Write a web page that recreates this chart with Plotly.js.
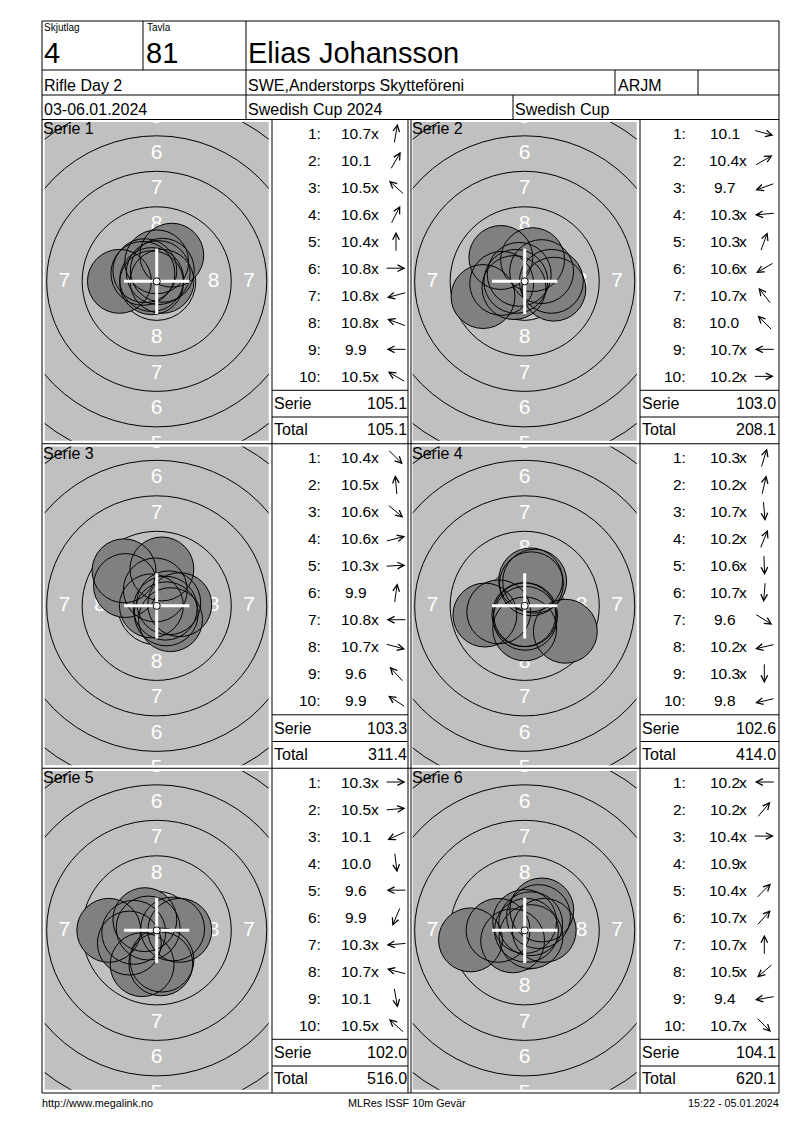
<!DOCTYPE html>
<html><head><meta charset="utf-8">
<script src="https://cdn.plot.ly/plotly-3.0.1.min.js"></script>
<style>html,body{margin:0;padding:0;background:#fff;}#chart{width:800px;height:1130px;}</style>
</head><body><div id="chart"></div>
<script>
// ---------- data ----------
const headerLabels = ['Skjutlag', 'Tavla'];
const headerValues = ['4', '81'];
const shooterName = 'Elias Johansson';
const eventName = 'Rifle Day 2';
const clubName = 'SWE,Anderstorps Skytteföreni';
const className = 'ARJM';
const eventDates = '03-06.01.2024';
const competitionName = 'Swedish Cup 2024';
const cupName = 'Swedish Cup';
const footerLeft = 'http://www.megalink.no';
const footerCenter = 'MLRes ISSF 10m Gevär';
const footerRight = '15:22 - 05.01.2024';

const serieNames = ['Serie 1', 'Serie 2', 'Serie 3', 'Serie 4', 'Serie 5', 'Serie 6'];

// decimal score of each shot, inner-ten flag (x), direction of the shot arrow (degrees, 0 = right, 90 = up)
const scores1 = [10.7, 10.1, 10.5, 10.6, 10.4, 10.8, 10.8, 10.8, 9.9, 10.5];
const inner1  = [1, 0, 1, 1, 1, 1, 1, 1, 0, 1];
const dir1    = [80, 60, 138, 63, 90, 0, 195, 160, 180, 150];

const scores2 = [10.1, 10.4, 9.7, 10.3, 10.3, 10.6, 10.7, 10.0, 10.7, 10.2];
const inner2  = [0, 1, 0, 1, 1, 1, 1, 0, 1, 1];
const dir2    = [345, 30, 200, 185, 70, 210, 128, 135, 180, 0];

const scores3 = [10.4, 10.5, 10.6, 10.6, 10.3, 9.9, 10.8, 10.7, 9.6, 9.9];
const inner3  = [1, 1, 1, 1, 1, 0, 1, 1, 0, 0];
const dir3    = [315, 95, 320, 14, 3, 82, 180, 345, 133, 147];

const scores4 = [10.3, 10.2, 10.7, 10.2, 10.6, 10.7, 9.6, 10.2, 10.3, 9.8];
const inner4  = [1, 1, 1, 1, 1, 1, 0, 1, 1, 0];
const dir4    = [73, 77, 275, 68, 272, 265, 328, 193, 270, 193];

const scores5 = [10.3, 10.5, 10.1, 10.0, 9.6, 9.9, 10.3, 10.7, 10.1, 10.5];
const inner5  = [1, 1, 0, 0, 0, 0, 1, 1, 0, 1];
const dir5    = [0, 5, 205, 277, 180, 247, 185, 165, 280, 138];

const scores6 = [10.2, 10.2, 10.4, 10.9, 10.4, 10.7, 10.7, 10.5, 9.4, 10.7];
const inner6  = [1, 1, 1, 1, 1, 1, 1, 1, 0, 1];
const dir6    = [180, 50, 0, null, 45, 48, 90, 221, 190, 315];

const serieSums     = [105.1, 103.0, 103.3, 102.6, 102.0, 104.1];
const runningTotals = [105.1, 208.1, 311.4, 414.0, 516.0, 620.1];

// ISSF 10 m air rifle target (mm): ring circles 9,8,7,...,1
const ringRadii   = [2.75, 5.25, 7.75, 10.25, 12.75, 15.25, 17.75, 20.25, 22.75];
const ringLabels  = [8, 7, 6, 5, 4];
const shotRadius  = 2.25;
const tenDot      = 0.25;

// ---------- layout helpers ----------
const W = 800, H = 1130;
const px = v => v / W;
const py = v => 1 - v / H;
const FONT = 'Arial, "Liberation Sans", sans-serif';

const MM = 14.2;                       // pixels per mm in the target views
const grayLeft = [44.7, 412.7], grayW = 224;
const grayTop = [122, 446.5, 771], grayH = 318.7;
const rowTop = [119.5, 444, 768.5];
const rowPitch = 27.04;
const idxRight = [320.5, 685.5], numCenter = [356.3, 724.5], arrowCx = [396, 764.3];
const lblLeft = [274, 642], valRight = [407.3, 775.5];
const nameLeft = [43, 411.5];

const allScores = [scores1, scores2, scores3, scores4, scores5, scores6];
const allInner = [inner1, inner2, inner3, inner4, inner5, inner6];
const allDir = [dir1, dir2, dir3, dir4, dir5, dir6];

const shapes = [], annotations = [], data = [];
const layout = {
  width: W, height: H, margin: {l: 0, r: 0, t: 0, b: 0},
  paper_bgcolor: '#ffffff', plot_bgcolor: '#c0c0c0', showlegend: false,
  shapes, annotations
};

function line(x0, y0, x1, y1) {
  shapes.push({type: 'line', xref: 'paper', yref: 'paper', x0: px(x0), y0: py(y0), x1: px(x1), y1: py(y1),
    line: {color: '#000', width: 1}, layer: 'above'});
}
function text(str, x, y, size, anchor) {
  annotations.push({text: str, x: px(x), y: py(y), xref: 'paper', yref: 'paper', xanchor: anchor, yanchor: 'middle',
    showarrow: false, font: {family: FONT, size: size, color: '#000'}, borderpad: 0, borderwidth: 0});
}

// ---------- header ----------
line(42, 21, 779, 21); line(42, 70, 779, 70); line(42, 95, 779, 95); line(42, 119.5, 779, 119.5);
line(42, 21, 42, 1093); line(779, 21, 779, 1093);
line(143, 21, 143, 70); line(246, 21, 246, 119.5);
line(615, 70, 615, 95); line(698, 70, 698, 95); line(513, 95, 513, 119.5);
text(headerLabels[0], 44, 28, 10, 'left');
text(headerValues[0], 43.5, 53, 29, 'left');
text(headerLabels[1], 146.5, 28, 10, 'left');
text(headerValues[1], 146, 53, 29, 'left');
text(shooterName, 248, 53, 29, 'left');
text(eventName, 44, 85.5, 16, 'left');
text(clubName, 248, 85.5, 16, 'left');
text(className, 618, 85.5, 16, 'left');
text(eventDates, 44, 109.5, 16, 'left');
text(competitionName, 248, 109.5, 16, 'left');
text(cupName, 515, 109.5, 16, 'left');

// ---------- panel grid ----------
[443.75, 768.25, 1093].forEach(y => line(42, y, 779, y));
[272, 408, 411, 640].forEach(x => line(x, 119.5, x, 1093));
rowTop.forEach(t => {
  line(272, t + 270.8, 408, t + 270.8); line(272, t + 297.5, 408, t + 297.5);
  line(640, t + 270.8, 779, t + 270.8); line(640, t + 297.5, 779, t + 297.5);
});

// ---------- series ----------
const halfX = grayW / 2 / MM, halfY = grayH / 2 / MM;
for (let k = 0; k < 6; k++) {
  const row = Math.floor(k / 2), col = k % 2;
  const sfx = k === 0 ? '' : String(k + 1);
  const xr = 'x' + sfx, yr = 'y' + sfx;
  layout['xaxis' + sfx] = {domain: [grayLeft[col] / W, (grayLeft[col] + grayW) / W],
    range: [-halfX, halfX], visible: false, fixedrange: true, anchor: yr};
  layout['yaxis' + sfx] = {domain: [1 - (grayTop[row] + grayH) / H, 1 - grayTop[row] / H],
    range: [-halfY, halfY], visible: false, fixedrange: true, anchor: xr};

  // rings
  ringRadii.forEach(r => shapes.push({type: 'circle', xref: xr, yref: yr, x0: -r, x1: r, y0: -r, y1: r,
    line: {color: '#000', width: 1}, fillcolor: 'rgba(0,0,0,0)', layer: 'below'}));

  // ring numbers, in the middle of each scoring zone (only those that reach the view)
  const lx = [], ly = [], lt = [];
  ringLabels.forEach(v => {
    const i = 9 - v;                       // zone v lies between ringRadii[i-1] and ringRadii[i]
    const rm = (ringRadii[i - 1] + ringRadii[i]) / 2;
    if (rm * MM - 6 < grayW / 2) { lx.push(rm, -rm); ly.push(0, 0); lt.push(String(v), String(v)); }
    if (rm * MM - 9 < grayH / 2) { lx.push(0, 0); ly.push(rm, -rm); lt.push(String(v), String(v)); }
  });
  data.push({type: 'scatter', mode: 'text', x: lx, y: ly, text: lt, xaxis: xr, yaxis: yr,
    textposition: 'middle center', textfont: {family: FONT, size: 21, color: '#ffffff'},
    hoverinfo: 'skip', cliponaxis: true, showlegend: false});

  // shots: position from decimal score (distance) and arrow direction
  const sc = allScores[k], dr = allDir[k];
  const pts = sc.map((s, i) => {
    const d = Math.max(0, 11 - s - 0.05) * 2.5;
    const a = (dr[i] === null ? 0 : dr[i]) * Math.PI / 180;
    return [d * Math.cos(a), d * Math.sin(a)];
  });
  pts.forEach(p => shapes.push({type: 'circle', xref: xr, yref: yr,
    x0: p[0] - shotRadius, x1: p[0] + shotRadius, y0: p[1] - shotRadius, y1: p[1] + shotRadius,
    line: {width: 0}, fillcolor: '#808080', layer: 'above'}));
  pts.forEach(p => shapes.push({type: 'circle', xref: xr, yref: yr,
    x0: p[0] - shotRadius, x1: p[0] + shotRadius, y0: p[1] - shotRadius, y1: p[1] + shotRadius,
    line: {color: '#000', width: 1}, fillcolor: 'rgba(0,0,0,0)', layer: 'above'}));

  // centre cross and ten dot
  shapes.push({type: 'line', xref: xr, yref: yr, x0: -2.3, x1: 2.3, y0: 0, y1: 0, line: {color: '#fff', width: 3}, layer: 'above'});
  shapes.push({type: 'line', xref: xr, yref: yr, x0: 0, x1: 0, y0: -2.3, y1: 2.3, line: {color: '#fff', width: 3}, layer: 'above'});
  shapes.push({type: 'circle', xref: xr, yref: yr, x0: -tenDot, x1: tenDot, y0: -tenDot, y1: tenDot,
    line: {color: '#000', width: 1}, fillcolor: '#fff', layer: 'above'});

  // series name
  text(serieNames[k], nameLeft[col], grayTop[row] + 6.7, 16, 'left');

  // score table
  const rt = rowTop[row];
  sc.forEach((s, i) => {
    const y = rt + 13.5 + i * rowPitch;
    text((i + 1) + ':', idxRight[col], y, 15.5, 'right');
    text(s.toFixed(1), numCenter[col], y, 15.5, 'center');
    if (allInner[k][i]) text('x', numCenter[col] + 14.6, y, 15.5, 'left');
    if (dr[i] !== null) {
      const L = 19, th = dr[i] * Math.PI / 180;
      const hx = arrowCx[col] + L / 2 * Math.cos(th), hy = y - L / 2 * Math.sin(th);
      annotations.push({x: px(hx), y: py(hy), xref: 'paper', yref: 'paper', text: '',
        ax: -L * Math.cos(th), ay: L * Math.sin(th), axref: 'pixel', ayref: 'pixel',
        showarrow: true, arrowhead: 5, arrowsize: 1.3, arrowwidth: 1, arrowcolor: '#000', standoff: 0,
        borderpad: 0, borderwidth: 0});
    }
  });
  text('Serie', lblLeft[col], rt + 284.2, 16, 'left');
  text(serieSums[k].toFixed(1), valRight[col], rt + 284.2, 16, 'right');
  text('Total', lblLeft[col], rt + 310.2, 16, 'left');
  text(runningTotals[k].toFixed(1), valRight[col], rt + 310.2, 16, 'right');
}

// ---------- footer ----------
text(footerLeft, 42, 1103, 10.8, 'left');
text(footerCenter, 407, 1103, 10.8, 'center');
text(footerRight, 779, 1103, 10.8, 'right');

Plotly.newPlot('chart', data, layout, {displayModeBar: false, staticPlot: true});
</script>
</body></html>
